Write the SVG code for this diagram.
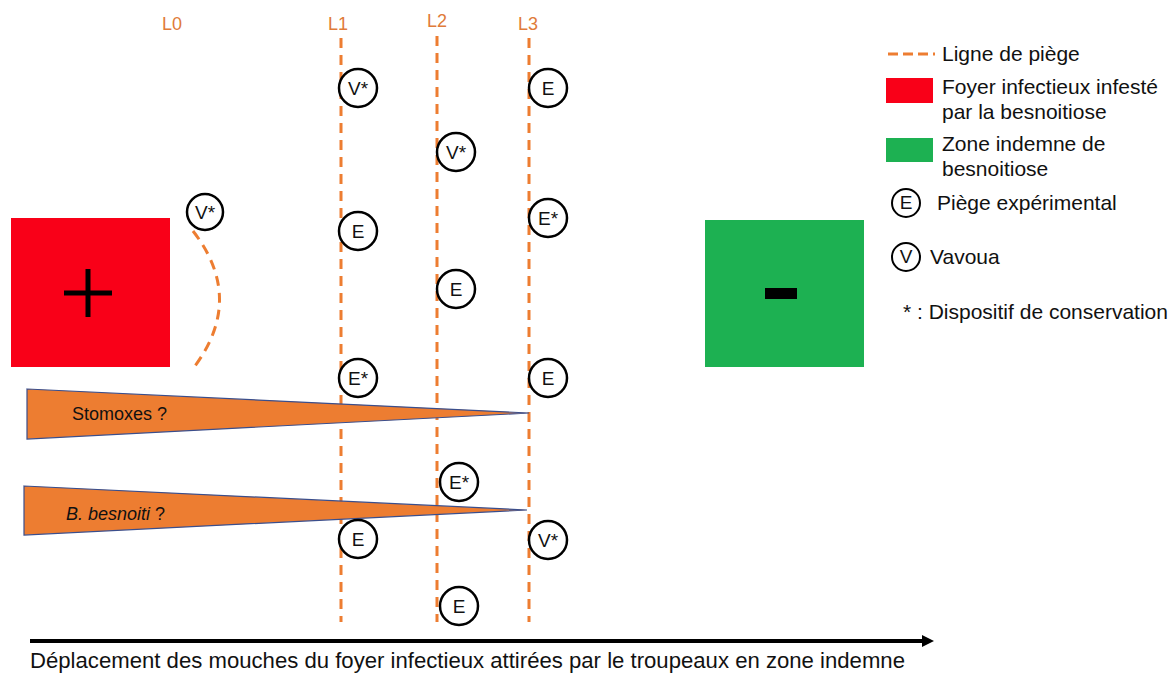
<svg xmlns="http://www.w3.org/2000/svg" width="1172" height="673" viewBox="0 0 1172 673">
<style>
text{font-family:"Liberation Sans","Open Sans",sans-serif;fill:#111}
.lbl{fill:#E07B39;font-size:18px}
.trap{fill:#fff;stroke:#000;stroke-width:2.5}
.tt{font-size:19px;text-anchor:middle}
.dash{stroke:#ED7D31;stroke-width:3;stroke-dasharray:10,7;fill:none}
.leg{font-size:21px}
</style>
<defs>
<marker id="ah" markerWidth="12" markerHeight="12" refX="8" refY="6" orient="auto" markerUnits="userSpaceOnUse">
<path d="M0,0 L12,6 L0,12 z" fill="#000"/>
</marker>
</defs>
<rect width="1172" height="673" fill="#fff"/>
<g id="labels">
<text class="lbl" x="172" y="30" text-anchor="middle">L0</text>
<text class="lbl" x="338" y="30" text-anchor="middle">L1</text>
<text class="lbl" x="437" y="27" text-anchor="middle">L2</text>
<text class="lbl" x="528" y="30" text-anchor="middle">L3</text>
</g>
<g id="connectors">
<line class="dash" x1="341" y1="38" x2="341" y2="622"/>
<line class="dash" x1="437" y1="36" x2="437" y2="622"/>
<line class="dash" x1="529" y1="38" x2="529" y2="622"/>
<path class="dash" d="M193,231 Q245,298 195,366"/>
<line x1="30" y1="641" x2="930" y2="641" stroke="#000" stroke-width="4" marker-end="url(#ah)"/>
</g>
<g id="foyer">
<rect x="11" y="218" width="159" height="149" fill="#F90018"/>
<path d="M64,293 H112 M88,269 V317" stroke="#000" stroke-width="5"/>
</g>
<g id="zone">
<rect x="705" y="220" width="159" height="147" fill="#1DB152"/>
<rect x="765" y="288" width="32" height="11" fill="#000"/>
</g>
<g id="stomoxes">
<polygon points="27,389 529,413 27,439" fill="#ED7D31" stroke="#3A4E8C" stroke-width="1.2"/>
<text x="72" y="420" font-size="18">Stomoxes ?</text>
</g>
<g id="besnoiti">
<polygon points="24,486 527,510 24,535" fill="#ED7D31" stroke="#3A4E8C" stroke-width="1.2"/>
<text x="66" y="520" font-size="18"><tspan font-style="italic">B. besnoiti</tspan> ?</text>
</g>
<g id="t1"><circle class="trap" cx="358" cy="88" r="19"/><text class="tt" x="358" y="95">V*</text></g>
<g id="t2"><circle class="trap" cx="548" cy="88" r="19"/><text class="tt" x="548" y="95">E</text></g>
<g id="t3"><circle class="trap" cx="456" cy="152" r="19"/><text class="tt" x="456" y="159">V*</text></g>
<g id="t4"><circle class="trap" cx="205" cy="212" r="18"/><text class="tt" x="205" y="219">V*</text></g>
<g id="t5"><circle class="trap" cx="358" cy="231" r="19"/><text class="tt" x="358" y="238">E</text></g>
<g id="t6"><circle class="trap" cx="548" cy="218" r="19"/><text class="tt" x="548" y="225">E*</text></g>
<g id="t7"><circle class="trap" cx="456" cy="289" r="19"/><text class="tt" x="456" y="296">E</text></g>
<g id="t8"><circle class="trap" cx="358" cy="378" r="19"/><text class="tt" x="358" y="385">E*</text></g>
<g id="t9"><circle class="trap" cx="548" cy="378" r="19"/><text class="tt" x="548" y="385">E</text></g>
<g id="t10"><circle class="trap" cx="459" cy="482" r="19"/><text class="tt" x="459" y="489">E*</text></g>
<g id="t11"><circle class="trap" cx="358" cy="539" r="19"/><text class="tt" x="358" y="546">E</text></g>
<g id="t12"><circle class="trap" cx="548" cy="540" r="19"/><text class="tt" x="548" y="547">V*</text></g>
<g id="t13"><circle class="trap" cx="459" cy="606" r="19"/><text class="tt" x="459" y="613">E</text></g>
<g id="legend">
<line x1="888" y1="54" x2="935" y2="54" stroke="#ED7D31" stroke-width="3" stroke-dasharray="10,5"/>
<text class="leg" x="942" y="61">Ligne de piège</text>
<rect x="886" y="78" width="47" height="25" fill="#F90018"/>
<text class="leg" x="942" y="94">Foyer infectieux infesté</text>
<text class="leg" x="942" y="119">par la besnoitiose</text>
<rect x="886" y="138" width="47" height="24" fill="#1DB152"/>
<text class="leg" x="942" y="151">Zone indemne de</text>
<text class="leg" x="942" y="176">besnoitiose</text>
<circle cx="906" cy="203" r="14" fill="#fff" stroke="#000" stroke-width="2"/>
<text class="tt" x="906" y="209" font-size="16">E</text>
<text class="leg" x="937" y="210">Piège expérimental</text>
<circle cx="906" cy="257" r="14" fill="#fff" stroke="#000" stroke-width="2"/>
<text class="tt" x="906" y="263" font-size="16">V</text>
<text class="leg" x="930" y="264">Vavoua</text>
<text class="leg" x="903" y="319">* : Dispositif de conservation</text>
</g>
<text x="30" y="668" font-size="22" textLength="875" lengthAdjust="spacingAndGlyphs">Déplacement des mouches du foyer infectieux attirées par le troupeaux en zone indemne</text>
</svg>
